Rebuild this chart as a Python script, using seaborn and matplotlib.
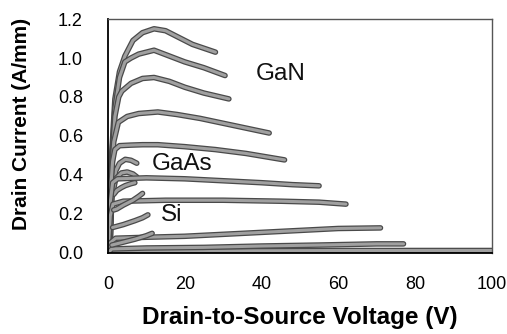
import matplotlib
matplotlib.use("Agg")
import matplotlib.pyplot as plt
import matplotlib.patheffects as pe
import pandas as pd
import seaborn as sns

# ── Data ─────────────────────────────────────────────────────────────────────
gan_1_v = [0, 0.8, 1.8, 3, 4.4, 6.5, 9, 12, 15, 18, 22, 25, 28]
gan_1_i = [0, 0.45, 0.79, 0.93, 1.01, 1.09, 1.13, 1.15, 1.14, 1.11, 1.07, 1.05, 1.03]
gan_2_v = [0, 0.8, 1.8, 3, 4.4, 6, 8, 12, 16, 20, 25, 30.5]
gan_2_i = [0, 0.42, 0.74, 0.9, 0.98, 1.0, 1.02, 1.04, 1.01, 0.98, 0.95, 0.91]
gan_3_v = [0, 0.8, 1.8, 2.8, 3.6, 6, 9, 12, 16, 20, 25, 31.5]
gan_3_i = [0, 0.4, 0.7, 0.8, 0.83, 0.87, 0.895, 0.9, 0.88, 0.85, 0.82, 0.79]
gan_4_v = [0, 0.7, 1.5, 2.7, 5, 8, 13, 18, 24, 30, 36, 42]
gan_4_i = [0, 0.35, 0.57, 0.67, 0.7, 0.715, 0.723, 0.71, 0.69, 0.665, 0.64, 0.615]
gan_5_v = [0, 0.6, 1.2, 1.8, 3, 6, 9, 13, 20, 28, 36, 46]
gan_5_i = [0, 0.3, 0.47, 0.53, 0.55, 0.553, 0.555, 0.555, 0.545, 0.53, 0.51, 0.477]
gan_6_v = [0, 0.6, 1.2, 2.5, 10, 20, 30, 40, 48, 55]
gan_6_i = [0, 0.26, 0.36, 0.38, 0.385, 0.38, 0.37, 0.36, 0.35, 0.344]
gan_7_v = [0, 0.6, 1.3, 4, 15, 30, 45, 55, 62]
gan_7_i = [0, 0.19, 0.25, 0.265, 0.27, 0.27, 0.265, 0.26, 0.25]
gan_8_v = [0, 0.5, 2, 10, 20, 35, 50, 60, 71]
gan_8_i = [0, 0.05, 0.075, 0.08, 0.085, 0.1, 0.115, 0.125, 0.128]
gan_9_v = [0, 1, 10, 25, 40, 55, 70, 77]
gan_9_i = [0, 0.02, 0.025, 0.028, 0.035, 0.04, 0.046, 0.046]
gan_10_v = [0, 10, 30, 60, 100]
gan_10_i = [0, 0.008, 0.01, 0.012, 0.012]

gaas_1_v = [0.5, 1, 2, 3, 4.5, 6, 7.5]
gaas_1_i = [0, 0.3, 0.42, 0.46, 0.48, 0.475, 0.46]
gaas_2_v = [0.5, 1, 2, 3.5, 5, 6.5, 7.5]
gaas_2_i = [0, 0.28, 0.38, 0.41, 0.415, 0.405, 0.39]
gaas_3_v = [1.5, 2.3, 3.5, 4.5, 6, 7]
gaas_3_i = [0.3, 0.32, 0.335, 0.345, 0.355, 0.36]

si_1_v = [1.5, 2.3, 4, 6.5, 8, 9]
si_1_i = [0.22, 0.225, 0.245, 0.27, 0.29, 0.305]
si_2_v = [1.2, 4, 7, 9, 10.4]
si_2_i = [0.13, 0.145, 0.165, 0.18, 0.195]
si_3_v = [1, 4, 7, 10, 11.5]
si_3_i = [0.04, 0.055, 0.07, 0.088, 0.1]

labels = ["GaN", "GaAs", "Si"]
label_v = [45, 19.3, 16.7]
label_i = [0.92, 0.456, 0.195]

x_ticks = [0, 20, 40, 60, 80, 100]
y_ticks = [0.0, 0.2, 0.4, 0.6, 0.8, 1.0, 1.2]

curves = {
    "gan_1": (gan_1_v, gan_1_i), "gan_2": (gan_2_v, gan_2_i),
    "gan_3": (gan_3_v, gan_3_i), "gan_4": (gan_4_v, gan_4_i),
    "gan_5": (gan_5_v, gan_5_i), "gan_6": (gan_6_v, gan_6_i),
    "gan_7": (gan_7_v, gan_7_i), "gan_8": (gan_8_v, gan_8_i),
    "gan_9": (gan_9_v, gan_9_i), "gan_10": (gan_10_v, gan_10_i),
    "gaas_1": (gaas_1_v, gaas_1_i), "gaas_2": (gaas_2_v, gaas_2_i),
    "gaas_3": (gaas_3_v, gaas_3_i),
    "si_1": (si_1_v, si_1_i), "si_2": (si_2_v, si_2_i), "si_3": (si_3_v, si_3_i),
}
df = pd.concat(
    [pd.DataFrame({"curve": k, "vds": v, "id": i}) for k, (v, i) in curves.items()],
    ignore_index=True,
)

# ── Plot ─────────────────────────────────────────────────────────────────────
sns.set_theme(style="white")
plt.rcParams["font.family"] = ["Liberation Sans", "DejaVu Sans"]

fig = plt.figure(figsize=(5.07, 3.34), dpi=100)
ax = fig.add_axes([0.213, 0.243, 0.757, 0.700])

sns.lineplot(data=df, x="vds", y="id", units="curve", estimator=None,
             color="#a0a0a0", linewidth=2.2, sort=False, ax=ax, legend=False)
for line in ax.lines:
    line.set_path_effects([pe.Stroke(linewidth=4.0, foreground="#4a4a4a"), pe.Normal()])

for txt, v, i in zip(labels, label_v, label_i):
    ax.text(v, i, txt, ha="center", va="center", fontsize=17.5, color="#111111")

ax.set_xlim(0, 100)
ax.set_ylim(0, 1.2)
ax.set_xticks(x_ticks)
ax.set_yticks(y_ticks)
ax.set_yticklabels([f"{t:.1f}" for t in y_ticks])
ax.tick_params(axis="x", length=0, pad=17, labelsize=13, labelcolor="black")
ax.tick_params(axis="y", direction="in", length=5, width=1, pad=18, labelsize=13,
               labelcolor="black", color="black")
ax.set_xlabel("Drain-to-Source Voltage (V)", fontsize=17.5, fontweight="bold",
              labelpad=9, color="black")
ax.set_ylabel("Drain Current (A/mm)", fontsize=15, fontweight="bold", color="black")
ax.yaxis.set_label_coords(-0.20, 0.55)

for side in ["left", "bottom"]:
    ax.spines[side].set_color("black")
    ax.spines[side].set_linewidth(1.3)
for side in ["top", "right"]:
    ax.spines[side].set_color("#555555")
    ax.spines[side].set_linewidth(1.0)
    ax.spines[side].set_linestyle((0, (1, 1)))

fig.savefig("out.png", dpi=100)
